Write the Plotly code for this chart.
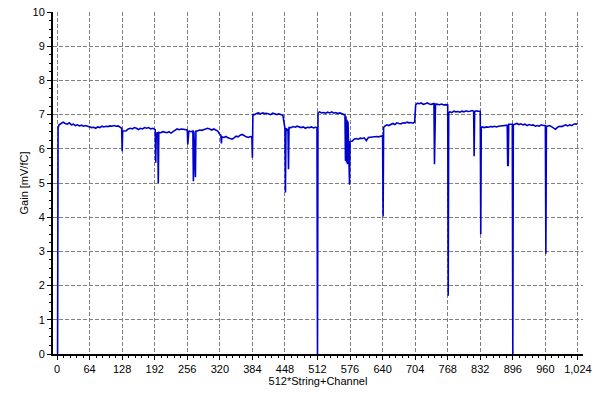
import plotly.graph_objects as go

# Gain sampled every 4 channels (channel = 4*i)
base_channel = list(range(0, 1024, 4))
base_gain = [
    # 0-60
    0.00, 6.70, 6.74, 6.78, 6.74, 6.72, 6.76, 6.70, 6.72, 6.68, 6.70, 6.67, 6.69, 6.66, 6.68, 6.66,
    # 64-124
    6.65, 6.62, 6.63, 6.60, 6.64, 6.62, 6.66, 6.64, 6.66, 6.65, 6.67, 6.66, 6.68, 6.66, 6.67, 6.64,
    # 128-188
    6.53, 6.52, 6.53, 6.58, 6.60, 6.58, 6.62, 6.60, 6.56, 6.60, 6.58, 6.62, 6.60, 6.62, 6.58, 6.60,
    # 192-252
    6.55, 6.45, 6.48, 6.47, 6.50, 6.48, 6.47, 6.50, 6.46, 6.50, 6.55, 6.58, 6.56, 6.58, 6.57, 6.55,
    # 256-316
    6.55, 6.52, 6.50, 6.51, 6.50, 6.52, 6.55, 6.54, 6.56, 6.58, 6.60, 6.58, 6.55, 6.58, 6.55, 6.52,
    # 320-380
    6.42, 6.35, 6.33, 6.36, 6.32, 6.30, 6.28, 6.32, 6.37, 6.35, 6.40, 6.42, 6.38, 6.35, 6.33, 6.36,
    # 384-444
    7.00, 7.00, 7.03, 7.05, 7.02, 7.05, 7.03, 7.04, 7.02, 7.00, 7.04, 7.02, 7.00, 7.02, 7.00, 6.98,
    # 448-508
    6.60, 6.55, 6.62, 6.62, 6.65, 6.63, 6.66, 6.64, 6.62, 6.64, 6.60, 6.63, 6.62, 6.64, 6.61, 6.63,
    # 512-572
    7.05, 7.08, 7.05, 7.06, 7.04, 7.07, 7.05, 7.08, 7.04, 7.06, 7.03, 7.05, 7.02, 7.00, 6.95, 6.50,
    # 576-636
    6.20, 6.22, 6.28, 6.30, 6.28, 6.31, 6.30, 6.32, 6.24, 6.33, 6.34, 6.35, 6.34, 6.36, 6.35, 6.37,
    # 640-700
    6.38, 6.66, 6.70, 6.68, 6.72, 6.74, 6.71, 6.76, 6.74, 6.73, 6.76, 6.75, 6.78, 6.76, 6.77, 6.75,
    # 704-764
    7.28, 7.33, 7.32, 7.34, 7.30, 7.32, 7.34, 7.31, 7.30, 7.32, 7.31, 7.30, 7.29, 7.31, 7.28, 7.29,
    # 768-828
    7.28, 7.08, 7.06, 7.10, 7.08, 7.09, 7.07, 7.10, 7.08, 7.11, 7.09, 7.10, 7.12, 7.09, 7.11, 7.10,
    # 832-892
    7.10, 6.64, 6.62, 6.64, 6.63, 6.65, 6.64, 6.66, 6.64, 6.66, 6.67, 6.66, 6.68, 6.70, 6.72, 6.71,
    # 896-956
    0.00, 6.72, 6.74, 6.71, 6.73, 6.70, 6.72, 6.68, 6.71, 6.69, 6.70, 6.66, 6.68, 6.66, 6.70, 6.68,
    # 960-1020
    6.68, 6.66, 6.68, 6.65, 6.60, 6.57, 6.63, 6.66, 6.65, 6.68, 6.70, 6.67, 6.70, 6.68, 6.72, 6.73,
]

# Individual channels (dead / low-gain strips and their neighbours)
spike_channel = [
    1, 2,
    127, 128, 129,
    193, 194, 195, 198, 199, 200,
    257, 258, 259, 267, 268, 269, 272, 273,
    322, 323, 324,
    383, 384, 385,
    449, 450, 454, 455, 456,
    511, 512, 513,
    566, 567, 568, 569, 570, 571, 572, 573, 574, 575, 577,
    641, 642,
    703, 705,
    741, 742, 743,
    769, 770,
    819, 820, 821,
    833, 834,
    885, 886, 887,
    895, 897,
    961, 962,
    1023,
]
spike_gain = [
    0.00, 6.62,
    6.60, 5.93, 6.52,
    6.56, 5.59, 6.47, 6.48, 5.00, 6.48,
    6.13, 6.50, 6.51, 6.52, 5.05, 6.51, 5.17, 6.52,
    6.40, 6.16, 6.35,
    6.35, 5.74, 7.00,
    4.72, 6.60, 6.58, 5.40, 6.62,
    6.62, 0.00, 7.05,
    7.00, 5.65, 6.95, 5.60, 6.85, 5.55, 6.80, 5.60, 5.50, 4.95, 6.22,
    4.02, 6.62,
    6.78, 7.28,
    7.32, 5.55, 7.31,
    1.70, 7.05,
    7.10, 5.78, 7.09,
    3.50, 6.62,
    6.69, 5.50, 5.52,
    6.72, 6.70,
    2.93, 6.66,
    6.71,
]

x_tick_values = [0, 64, 128, 192, 256, 320, 384, 448, 512, 576, 640, 704, 768, 832, 896, 960, 1024]

points = dict(zip(base_channel, base_gain))
points.update(dict(zip(spike_channel, spike_gain)))
channel = sorted(points)
gain = [points[c] for c in channel]

fig = go.Figure(go.Scatter(
    x=channel, y=gain, mode="lines",
    line=dict(color="rgb(0,0,205)", width=1.6),
    hoverinfo="skip",
))

font = dict(family="Liberation Sans, Arial, sans-serif", size=11, color="black")
fig.update_layout(
    width=600, height=400,
    margin=dict(l=53, r=17, t=12, b=46, autoexpand=False),
    paper_bgcolor="white", plot_bgcolor="white",
    showlegend=False, font=font,
)
fig.update_xaxes(
    range=[-8, 1034], automargin=False,
    tickvals=x_tick_values, tickformat=",d",
    showgrid=True, gridcolor="#808080", griddash="4px,2px", gridwidth=1,
    showline=True, linecolor="black", linewidth=2,
    ticks="outside", ticklen=4, tickcolor="black", tickwidth=1,
    minor=dict(dtick=12.8, tick0=0, ticks="outside", ticklen=2, tickcolor="black", showgrid=False),
    zeroline=False,
    title=dict(text="512*String+Channel", font=font, standoff=3),
)
fig.update_yaxes(
    range=[0, 10], dtick=1, automargin=False,
    showgrid=True, gridcolor="#808080", griddash="4px,2px", gridwidth=1,
    showline=True, linecolor="black", linewidth=2,
    ticks="outside", ticklen=4, tickcolor="black", tickwidth=1,
    minor=dict(dtick=0.25, ticks="outside", ticklen=2, tickcolor="black", showgrid=False),
    zeroline=False,
    title=dict(text="Gain [mV/fC]", font=font, standoff=2),
)

fig.write_html(
    "out.html",
    config={"displayModeBar": False},
    post_script="document.body.style.margin='0';document.body.style.overflow='hidden';",
)
